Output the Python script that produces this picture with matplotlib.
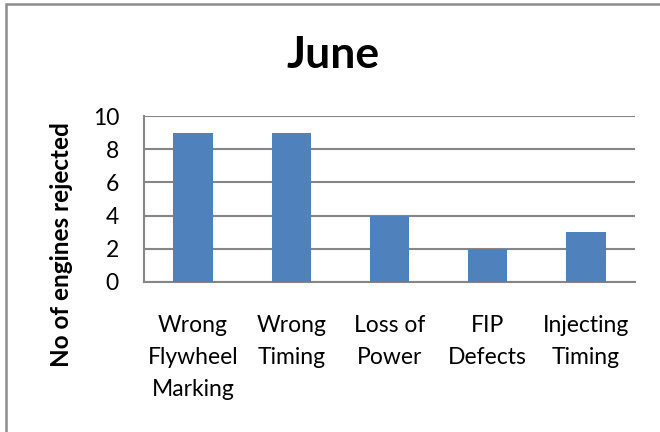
import matplotlib.pyplot as plt
from matplotlib.patches import Rectangle

# data
categories = ['Wrong\nFlywheel\nMarking', 'Wrong\nTiming', 'Loss of\nPower', 'FIP\nDefects', 'Injecting\nTiming']
rejected = [9, 9, 4, 2, 3]
yticks = [0, 2, 4, 6, 8, 10]

plt.rcParams['font.family'] = ['Lato', 'DejaVu Sans']
grid_col = '#868686'

fig = plt.figure(figsize=(6.6, 4.32), dpi=100)
ax = fig.add_axes([144 / 660, 150 / 432, 491 / 660, 166 / 432])

ax.bar(range(len(categories)), rejected, width=0.4, color='#4F81BD', zorder=3)
ax.set_xlim(-0.5, len(categories) - 0.5)
ax.set_ylim(0, 10)
ax.set_yticks(yticks)
ax.set_xticks(range(len(categories)))
ax.set_xticklabels(categories, fontsize=16.5, linespacing=1.65)
ax.tick_params(axis='y', labelsize=16.5, length=0, pad=18)
ax.tick_params(axis='x', length=0, pad=24)
ax.yaxis.grid(True, color=grid_col, linewidth=1.5, zorder=0)

for side in ['top', 'right']:
    ax.spines[side].set_visible(False)
for side in ['left', 'bottom']:
    ax.spines[side].set_color(grid_col)
    ax.spines[side].set_linewidth(1.5)

fig.text(62 / 660, 1 - 245 / 432, 'No of engines rejected', fontsize=17.5, fontweight='bold',
         rotation=90, ha='center', va='center')
fig.text(333 / 660, 1 - 55 / 432, 'June', fontsize=32, fontweight='bold', ha='center', va='center')

# chart border (only left and top edges show in the crop)
fig.patches.append(Rectangle((6 / 660, -0.2), 1.0, 1.2 - 4 / 432, transform=fig.transFigure,
                             fill=False, edgecolor='#8c8c8c', linewidth=1.8))

fig.savefig('out.png', dpi=100)
